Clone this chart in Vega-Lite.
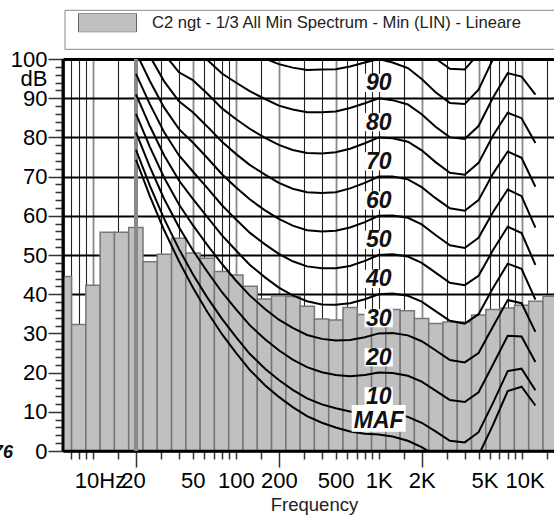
{
  "$schema": "https://vega.github.io/schema/vega-lite/v6.json",
  "width": 491,
  "height": 392,
  "autosize": {"type": "none"},
  "padding": {"left": 63, "top": 59, "right": 0, "bottom": 66},
  "background": "white",
  "config": {"view": {"stroke": null}, "font": "Liberation Sans"},
  "datasets": {
    "bars": [
      {"band": 6.3, "lo": 5.623, "hi": 7.079, "db": 44.5},
      {"band": 8, "lo": 7.079, "hi": 8.913, "db": 32.3},
      {"band": 10, "lo": 8.913, "hi": 11.22, "db": 42.3},
      {"band": 12.5, "lo": 11.22, "hi": 14.13, "db": 55.8},
      {"band": 16, "lo": 14.13, "hi": 17.78, "db": 55.8},
      {"band": 20, "lo": 17.78, "hi": 22.39, "db": 57.0},
      {"band": 25, "lo": 22.39, "hi": 28.18, "db": 48.3},
      {"band": 31.5, "lo": 28.18, "hi": 35.48, "db": 50.2},
      {"band": 40, "lo": 35.48, "hi": 44.67, "db": 54.3},
      {"band": 50, "lo": 44.67, "hi": 56.23, "db": 50.5},
      {"band": 63, "lo": 56.23, "hi": 70.79, "db": 49.2},
      {"band": 80, "lo": 70.79, "hi": 89.13, "db": 45.8},
      {"band": 100, "lo": 89.13, "hi": 112.2, "db": 44.9},
      {"band": 125, "lo": 112.2, "hi": 141.3, "db": 42.0},
      {"band": 160, "lo": 141.3, "hi": 177.8, "db": 38.8},
      {"band": 200, "lo": 177.8, "hi": 223.9, "db": 39.6},
      {"band": 250, "lo": 223.9, "hi": 281.8, "db": 39.4},
      {"band": 315, "lo": 281.8, "hi": 354.8, "db": 36.9},
      {"band": 400, "lo": 354.8, "hi": 446.7, "db": 33.7},
      {"band": 500, "lo": 446.7, "hi": 562.3, "db": 33.4},
      {"band": 630, "lo": 562.3, "hi": 707.9, "db": 36.6},
      {"band": 800, "lo": 707.9, "hi": 891.3, "db": 34.8},
      {"band": 1000, "lo": 891.3, "hi": 1122, "db": 36.0},
      {"band": 1250, "lo": 1122, "hi": 1413, "db": 36.1},
      {"band": 1600, "lo": 1413, "hi": 1778, "db": 35.8},
      {"band": 2000, "lo": 1778, "hi": 2239, "db": 33.8},
      {"band": 2500, "lo": 2239, "hi": 2818, "db": 32.5},
      {"band": 3150, "lo": 2818, "hi": 3548, "db": 32.9},
      {"band": 4000, "lo": 3548, "hi": 4467, "db": 32.9},
      {"band": 5000, "lo": 4467, "hi": 5623, "db": 34.7},
      {"band": 6300, "lo": 5623, "hi": 7079, "db": 36.1},
      {"band": 8000, "lo": 7079, "hi": 8913, "db": 36.5},
      {"band": 10000, "lo": 8913, "hi": 11220, "db": 37.2},
      {"band": 12500, "lo": 11220, "hi": 14130, "db": 38.2},
      {"band": 16000, "lo": 14130, "hi": 17780, "db": 39.5}
    ],
    "contours": [
      {"c":"MAF","f":20,"db":74.3},{"c":"MAF","f":25,"db":65.0},{"c":"MAF","f":31.5,"db":56.3},{"c":"MAF","f":40,"db":48.4},{"c":"MAF","f":50,"db":41.7},{"c":"MAF","f":63,"db":35.5},{"c":"MAF","f":80,"db":29.8},{"c":"MAF","f":100,"db":25.1},{"c":"MAF","f":125,"db":20.7},{"c":"MAF","f":160,"db":16.8},{"c":"MAF","f":200,"db":13.8},{"c":"MAF","f":250,"db":11.2},{"c":"MAF","f":315,"db":8.9},{"c":"MAF","f":400,"db":7.2},{"c":"MAF","f":500,"db":6.0},{"c":"MAF","f":630,"db":5.0},{"c":"MAF","f":800,"db":4.4},{"c":"MAF","f":1000,"db":4.2},{"c":"MAF","f":1250,"db":3.7},{"c":"MAF","f":1600,"db":2.6},{"c":"MAF","f":2000,"db":1.0},{"c":"MAF","f":2500,"db":-1.2},{"c":"MAF","f":3150,"db":-3.6},{"c":"MAF","f":4000,"db":-3.9},{"c":"MAF","f":5000,"db":-1.1},{"c":"MAF","f":6300,"db":6.6},{"c":"MAF","f":8000,"db":15.3},{"c":"MAF","f":10000,"db":16.4},{"c":"MAF","f":12500,"db":11.6},
      {"c":"10","f":20,"db":76.8},{"c":"10","f":25,"db":67.7},{"c":"10","f":31.5,"db":59.2},{"c":"10","f":40,"db":51.5},{"c":"10","f":50,"db":45.1},{"c":"10","f":63,"db":39.2},{"c":"10","f":80,"db":33.7},{"c":"10","f":100,"db":29.1},{"c":"10","f":125,"db":24.8},{"c":"10","f":160,"db":21.0},{"c":"10","f":200,"db":18.1},{"c":"10","f":250,"db":15.6},{"c":"10","f":315,"db":13.4},{"c":"10","f":400,"db":11.9},{"c":"10","f":500,"db":10.9},{"c":"10","f":630,"db":10.1},{"c":"10","f":800,"db":9.9},{"c":"10","f":1000,"db":10},{"c":"10","f":1250,"db":9.7},{"c":"10","f":1600,"db":8.7},{"c":"10","f":2000,"db":7.2},{"c":"10","f":2500,"db":5.0},{"c":"10","f":3150,"db":2.6},{"c":"10","f":4000,"db":2.2},{"c":"10","f":5000,"db":4.8},{"c":"10","f":6300,"db":12.2},{"c":"10","f":8000,"db":20.4},{"c":"10","f":10000,"db":21.0},{"c":"10","f":12500,"db":15.5},
      {"c":"20","f":20,"db":81.3},{"c":"20","f":25,"db":72.5},{"c":"20","f":31.5,"db":64.3},{"c":"20","f":40,"db":57.1},{"c":"20","f":50,"db":51.2},{"c":"20","f":63,"db":45.8},{"c":"20","f":80,"db":40.5},{"c":"20","f":100,"db":36.2},{"c":"20","f":125,"db":32.1},{"c":"20","f":160,"db":28.5},{"c":"20","f":200,"db":25.7},{"c":"20","f":250,"db":23.3},{"c":"20","f":315,"db":21.4},{"c":"20","f":400,"db":20.1},{"c":"20","f":500,"db":19.4},{"c":"20","f":630,"db":19.1},{"c":"20","f":800,"db":19.4},{"c":"20","f":1000,"db":20},{"c":"20","f":1250,"db":19.9},{"c":"20","f":1600,"db":19.2},{"c":"20","f":2000,"db":17.7},{"c":"20","f":2500,"db":15.4},{"c":"20","f":3150,"db":13.0},{"c":"20","f":4000,"db":12.5},{"c":"20","f":5000,"db":15.0},{"c":"20","f":6300,"db":22.0},{"c":"20","f":8000,"db":29.4},{"c":"20","f":10000,"db":29.2},{"c":"20","f":12500,"db":22.7},
      {"c":"30","f":20,"db":86.0},{"c":"30","f":25,"db":77.6},{"c":"30","f":31.5,"db":69.7},{"c":"30","f":40,"db":62.9},{"c":"30","f":50,"db":57.6},{"c":"30","f":63,"db":52.6},{"c":"30","f":80,"db":47.7},{"c":"30","f":100,"db":43.5},{"c":"30","f":125,"db":39.7},{"c":"30","f":160,"db":36.2},{"c":"30","f":200,"db":33.5},{"c":"30","f":250,"db":31.4},{"c":"30","f":315,"db":29.6},{"c":"30","f":400,"db":28.6},{"c":"30","f":500,"db":28.2},{"c":"30","f":630,"db":28.3},{"c":"30","f":800,"db":29.0},{"c":"30","f":1000,"db":30},{"c":"30","f":1250,"db":30.1},{"c":"30","f":1600,"db":29.5},{"c":"30","f":2000,"db":28.0},{"c":"30","f":2500,"db":25.7},{"c":"30","f":3150,"db":23.2},{"c":"30","f":4000,"db":22.6},{"c":"30","f":5000,"db":25.0},{"c":"30","f":6300,"db":31.7},{"c":"30","f":8000,"db":38.5},{"c":"30","f":10000,"db":37.7},{"c":"30","f":12500,"db":30.4},
      {"c":"40","f":20,"db":91.0},{"c":"40","f":25,"db":82.9},{"c":"40","f":31.5,"db":75.4},{"c":"40","f":40,"db":69.0},{"c":"40","f":50,"db":64.3},{"c":"40","f":63,"db":59.7},{"c":"40","f":80,"db":55.0},{"c":"40","f":100,"db":51.2},{"c":"40","f":125,"db":47.5},{"c":"40","f":160,"db":44.3},{"c":"40","f":200,"db":41.7},{"c":"40","f":250,"db":39.7},{"c":"40","f":315,"db":38.2},{"c":"40","f":400,"db":37.4},{"c":"40","f":500,"db":37.3},{"c":"40","f":630,"db":37.7},{"c":"40","f":800,"db":38.7},{"c":"40","f":1000,"db":40},{"c":"40","f":1250,"db":40.2},{"c":"40","f":1600,"db":39.6},{"c":"40","f":2000,"db":38.1},{"c":"40","f":2500,"db":35.7},{"c":"40","f":3150,"db":33.2},{"c":"40","f":4000,"db":32.5},{"c":"40","f":5000,"db":34.9},{"c":"40","f":6300,"db":41.5},{"c":"40","f":8000,"db":47.8},{"c":"40","f":10000,"db":46.5},{"c":"40","f":12500,"db":38.6},
      {"c":"50","f":20,"db":96.2},{"c":"50","f":25,"db":88.5},{"c":"50","f":31.5,"db":81.3},{"c":"50","f":40,"db":75.4},{"c":"50","f":50,"db":71.3},{"c":"50","f":63,"db":67.1},{"c":"50","f":80,"db":62.7},{"c":"50","f":100,"db":59.1},{"c":"50","f":125,"db":55.7},{"c":"50","f":160,"db":52.7},{"c":"50","f":200,"db":50.3},{"c":"50","f":250,"db":48.4},{"c":"50","f":315,"db":47.1},{"c":"50","f":400,"db":46.6},{"c":"50","f":500,"db":46.6},{"c":"50","f":630,"db":47.2},{"c":"50","f":800,"db":48.5},{"c":"50","f":1000,"db":50},{"c":"50","f":1250,"db":50.2},{"c":"50","f":1600,"db":49.6},{"c":"50","f":2000,"db":48.0},{"c":"50","f":2500,"db":45.5},{"c":"50","f":3150,"db":42.9},{"c":"50","f":4000,"db":42.3},{"c":"50","f":5000,"db":44.7},{"c":"50","f":6300,"db":51.2},{"c":"50","f":8000,"db":57.2},{"c":"50","f":10000,"db":55.6},{"c":"50","f":12500,"db":47.5},
      {"c":"60","f":20,"db":101.7},{"c":"60","f":25,"db":94.4},{"c":"60","f":31.5,"db":87.6},{"c":"60","f":40,"db":82.1},{"c":"60","f":50,"db":78.7},{"c":"60","f":63,"db":74.8},{"c":"60","f":80,"db":70.6},{"c":"60","f":100,"db":67.3},{"c":"60","f":125,"db":64.2},{"c":"60","f":160,"db":61.4},{"c":"60","f":200,"db":59.2},{"c":"60","f":250,"db":57.5},{"c":"60","f":315,"db":56.3},{"c":"60","f":400,"db":56.0},{"c":"60","f":500,"db":56.2},{"c":"60","f":630,"db":57.0},{"c":"60","f":800,"db":58.4},{"c":"60","f":1000,"db":60},{"c":"60","f":1250,"db":60.1},{"c":"60","f":1600,"db":59.5},{"c":"60","f":2000,"db":57.8},{"c":"60","f":2500,"db":55.1},{"c":"60","f":3150,"db":52.5},{"c":"60","f":4000,"db":51.8},{"c":"60","f":5000,"db":54.4},{"c":"60","f":6300,"db":60.9},{"c":"60","f":8000,"db":66.7},{"c":"60","f":10000,"db":65.0},{"c":"60","f":12500,"db":57.0},
      {"c":"70","f":20,"db":107.6},{"c":"70","f":25,"db":100.7},{"c":"70","f":31.5,"db":94.3},{"c":"70","f":40,"db":89.2},{"c":"70","f":50,"db":86.4},{"c":"70","f":63,"db":82.8},{"c":"70","f":80,"db":78.9},{"c":"70","f":100,"db":75.8},{"c":"70","f":125,"db":73.0},{"c":"70","f":160,"db":70.5},{"c":"70","f":200,"db":68.4},{"c":"70","f":250,"db":66.9},{"c":"70","f":315,"db":66.0},{"c":"70","f":400,"db":65.8},{"c":"70","f":500,"db":66.0},{"c":"70","f":630,"db":67.0},{"c":"70","f":800,"db":68.4},{"c":"70","f":1000,"db":70},{"c":"70","f":1250,"db":70.0},{"c":"70","f":1600,"db":69.3},{"c":"70","f":2000,"db":67.3},{"c":"70","f":2500,"db":64.5},{"c":"70","f":3150,"db":61.9},{"c":"70","f":4000,"db":61.3},{"c":"70","f":5000,"db":64.0},{"c":"70","f":6300,"db":70.7},{"c":"70","f":8000,"db":76.4},{"c":"70","f":10000,"db":74.8},{"c":"70","f":12500,"db":67.4},
      {"c":"80","f":20,"db":113.7},{"c":"80","f":25,"db":107.3},{"c":"80","f":31.5,"db":101.3},{"c":"80","f":40,"db":96.6},{"c":"80","f":50,"db":94.6},{"c":"80","f":63,"db":91.2},{"c":"80","f":80,"db":87.4},{"c":"80","f":100,"db":84.7},{"c":"80","f":125,"db":82.2},{"c":"80","f":160,"db":79.9},{"c":"80","f":200,"db":78.1},{"c":"80","f":250,"db":76.8},{"c":"80","f":315,"db":76.0},{"c":"80","f":400,"db":75.9},{"c":"80","f":500,"db":76.2},{"c":"80","f":630,"db":77.1},{"c":"80","f":800,"db":78.5},{"c":"80","f":1000,"db":80},{"c":"80","f":1250,"db":79.8},{"c":"80","f":1600,"db":78.9},{"c":"80","f":2000,"db":76.7},{"c":"80","f":2500,"db":73.7},{"c":"80","f":3150,"db":71.0},{"c":"80","f":4000,"db":70.5},{"c":"80","f":5000,"db":73.5},{"c":"80","f":6300,"db":80.4},{"c":"80","f":8000,"db":86.3},{"c":"80","f":10000,"db":84.9},{"c":"80","f":12500,"db":78.6},
      {"c":"90","f":20,"db":120.3},{"c":"90","f":25,"db":114.4},{"c":"90","f":31.5,"db":108.7},{"c":"90","f":40,"db":104.4},{"c":"90","f":50,"db":103.2},{"c":"90","f":63,"db":99.8},{"c":"90","f":80,"db":96.3},{"c":"90","f":100,"db":94.0},{"c":"90","f":125,"db":91.8},{"c":"90","f":160,"db":89.8},{"c":"90","f":200,"db":88.1},{"c":"90","f":250,"db":87.1},{"c":"90","f":315,"db":86.4},{"c":"90","f":400,"db":86.4},{"c":"90","f":500,"db":86.6},{"c":"90","f":630,"db":87.5},{"c":"90","f":800,"db":88.7},{"c":"90","f":1000,"db":90},{"c":"90","f":1250,"db":89.5},{"c":"90","f":1600,"db":88.4},{"c":"90","f":2000,"db":85.9},{"c":"90","f":2500,"db":82.7},{"c":"90","f":3150,"db":80.0},{"c":"90","f":4000,"db":79.6},{"c":"90","f":5000,"db":82.9},{"c":"90","f":6300,"db":90.1},{"c":"90","f":8000,"db":96.4},{"c":"90","f":10000,"db":95.5},{"c":"90","f":12500,"db":90.9},
      {"c":"100","f":20,"db":127.2},{"c":"100","f":25,"db":121.9},{"c":"100","f":31.5,"db":116.6},{"c":"100","f":40,"db":112.6},{"c":"100","f":50,"db":112.3},{"c":"100","f":63,"db":108.9},{"c":"100","f":80,"db":105.6},{"c":"100","f":100,"db":103.6},{"c":"100","f":125,"db":101.8},{"c":"100","f":160,"db":100.1},{"c":"100","f":200,"db":98.7},{"c":"100","f":250,"db":97.8},{"c":"100","f":315,"db":97.2},{"c":"100","f":400,"db":97.3},{"c":"100","f":500,"db":97.4},{"c":"100","f":630,"db":98.1},{"c":"100","f":800,"db":99.1},{"c":"100","f":1000,"db":100},{"c":"100","f":1250,"db":99.1},{"c":"100","f":1600,"db":97.7},{"c":"100","f":2000,"db":94.9},{"c":"100","f":2500,"db":91.5},{"c":"100","f":3150,"db":88.8},{"c":"100","f":4000,"db":88.5},{"c":"100","f":5000,"db":92.2},{"c":"100","f":6300,"db":99.9},{"c":"100","f":8000,"db":106.6},{"c":"100","f":10000,"db":106.5},{"c":"100","f":12500,"db":104.3},
      {"c":"110","f":1250,"db":108.6},{"c":"110","f":1600,"db":107.0},{"c":"110","f":2000,"db":103.8},{"c":"110","f":2500,"db":100.1},{"c":"110","f":3150,"db":97.5},{"c":"110","f":4000,"db":97.3},{"c":"110","f":5000,"db":101.4},{"c":"110","f":6300,"db":109.6}
    ],
    "labels": [
      {"c": "MAF", "f": 1000, "db": 4.2},
      {"c": "10", "f": 1000, "db": 10},
      {"c": "20", "f": 1000, "db": 20},
      {"c": "30", "f": 1000, "db": 30},
      {"c": "40", "f": 1000, "db": 40},
      {"c": "50", "f": 1000, "db": 50},
      {"c": "60", "f": 1000, "db": 60},
      {"c": "70", "f": 1000, "db": 70},
      {"c": "80", "f": 1000, "db": 80},
      {"c": "90", "f": 1000, "db": 90}
    ]
  },
  "layer": [
    {
      "data": {"name": "bars"},
      "mark": {"type": "rect", "stroke": "#777777", "strokeWidth": 1.5, "clip": true},
      "encoding": {
        "x": {
          "field": "lo", "type": "quantitative", "title": "Frequency",
          "scale": {"type": "log", "domain": [6.166, 16870], "nice": false},
          "axis": {
            "values": [7,8,9,10,15,20,30,40,50,60,70,80,90,100,150,200,300,400,500,600,700,800,900,1000,1500,2000,3000,4000,5000,6000,7000,8000,9000,10000,15000],
            "tickCount": 500,
            "labelExpr": "datum.value == 10 ? '10Hz' : (indexof([20,50,100,200,500], datum.value) >= 0 ? '' + datum.value : (indexof([1000,2000,5000,10000], datum.value) >= 0 ? (datum.value / 1000) + 'K' : ''))",
            "labelFont": "Liberation Sans", "labelFontSize": 22, "labelColor": "black",
            "labelOverlap": false, "labelFlush": false,
            "labelPadding": {"condition": {"test": "datum.value == 20 || datum.value == 200 || datum.value == 2000", "value": 3}, "value": 11},
            "labelOffset": {"condition": [{"test": "datum.value == 10", "value": 7}, {"test": "datum.value == 20", "value": -3}, {"test": "datum.value == 5000", "value": 6}, {"test": "datum.value == 10000", "value": 3}], "value": 0},
            "tickSize": {"condition": {"test": "datum.value == 20 || datum.value == 200 || datum.value == 2000", "value": 16}, "value": 8},
            "tickColor": "#333333", "tickWidth": 1.5,
            "domainColor": "black", "domainWidth": 2.5,
            "grid": true,
            "gridColor": {"condition": {"test": "indexof([10,20,50,100,200,500,2000,5000,10000], datum.value) >= 0", "value": "#8a8a8a"}, "value": "#222222"},
            "gridWidth": {"condition": {"test": "indexof([10,20,50,100,200,500,2000,5000,10000], datum.value) >= 0", "value": 1.8}, "value": 1.1},
            "titleFont": "Liberation Sans", "titleFontSize": 18.5, "titleFontWeight": "normal", "titleColor": "#222222",
            "titleX": 251, "titleY": 59, "titleBaseline": "alphabetic"
          }
        },
        "x2": {"field": "hi"},
        "y": {
          "field": "db", "type": "quantitative", "title": null,
          "scale": {"domain": [0, 100], "nice": false, "zero": false},
          "axis": {
            "values": [0,2,4,6,8,10,12,14,16,18,20,22,24,26,28,30,32,34,36,38,40,42,44,46,48,50,52,54,56,58,60,62,64,66,68,70,72,74,76,78,80,82,84,86,88,90,92,94,95,96,98,100],
            "tickCount": 500,
            "labelExpr": "datum.value == 95 ? 'dB' : (datum.value % 10 == 0 ? '' + datum.value : '')",
            "labelFont": "Liberation Sans", "labelFontSize": 22, "labelColor": "black",
            "labelOverlap": false, "labelFlush": false, "labelBaseline": "middle",
            "labelPadding": {"condition": {"test": "datum.value == 95", "value": 8}, "value": 1},
            "tickSize": {"condition": {"test": "datum.value % 10 == 0", "value": 15}, "value": 8},
            "tickOpacity": {"condition": {"test": "datum.value == 95", "value": 0}, "value": 1},
            "tickColor": "#333333", "tickWidth": 1.5,
            "domainColor": "black", "domainWidth": 2.5,
            "grid": true, "gridColor": "black",
            "gridWidth": {"condition": {"test": "datum.value == 100", "value": 3}, "value": 2},
            "gridOpacity": {"condition": {"test": "datum.value % 10 == 0 && datum.value > 0", "value": 1}, "value": 0}
          }
        },
        "y2": {"datum": 0},
        "fill": {
          "datum": "C2 ngt - 1/3 All Min Spectrum - Min (LIN) - Lineare", "type": "nominal",
          "scale": {"range": ["#c0c0c0"]},
          "legend": {
            "orient": "none", "legendX": 1.5, "legendY": -49.2,
            "title": "\u00a0", "titleOrient": "bottom", "titleFontSize": 11, "titlePadding": 1.5,
            "labelFont": "Liberation Sans", "labelFontSize": 16.6, "labelColor": "#222222", "labelLimit": 2000,
            "labelExpr": "datum.label + '\u00a0\u00a0\u00a0\u00a0\u00a0\u00a0\u00a0\u00a0\u00a0\u00a0\u00a0\u00a0\u00a0\u00a0\u00a0\u00a0\u00a0\u00a0\u00a0\u00a0\u00a0\u00a0\u00a0\u00a0\u00a0\u00a0\u00a0\u00a0\u00a0\u00a0\u200b'",
            "symbolType": "M-1,-0.3276H1V0.3276H-1Z", "symbolSize": 3364,
            "symbolStrokeColor": "#666666", "symbolStrokeWidth": 1,
            "clipHeight": 19, "symbolOffset": 10, "labelOffset": 15,
            "padding": 3.5, "strokeColor": "#888888", "fillColor": "white"
          }
        }
      }
    },
    {
      "data": {"values": [{"f": 6.166}]},
      "mark": {"type": "rule", "color": "black", "strokeWidth": 3},
      "encoding": {
        "x": {"field": "f", "type": "quantitative", "title": "Frequency", "scale": {"type": "log", "domain": [6.166, 16870], "nice": false}}
      }
    },
    {
      "data": {"values": [{"db": 0}]},
      "mark": {"type": "rule", "color": "black", "strokeWidth": 2.5},
      "encoding": {
        "y": {"field": "db", "type": "quantitative", "title": null, "scale": {"domain": [0, 100], "nice": false, "zero": false}}
      }
    },
    {
      "data": {"values": [{"f": 20}]},
      "mark": {"type": "rule", "color": "#8a8a8a", "strokeWidth": 4},
      "encoding": {
        "x": {"field": "f", "type": "quantitative", "title": "Frequency", "scale": {"type": "log", "domain": [6.166, 16870], "nice": false}}
      }
    },
    {
      "data": {"name": "contours"},
      "mark": {"type": "line", "color": "black", "strokeWidth": 2, "clip": true},
      "encoding": {
        "x": {"field": "f", "type": "quantitative", "title": "Frequency", "scale": {"type": "log", "domain": [6.166, 16870], "nice": false}},
        "y": {"field": "db", "type": "quantitative", "title": null, "scale": {"domain": [0, 100], "nice": false, "zero": false}},
        "detail": {"field": "c", "type": "nominal"}
      }
    },
    {
      "data": {"name": "labels"},
      "transform": [{"filter": "datum.c != 'MAF'"}],
      "mark": {"type": "point", "shape": "M-1,-0.647H1V0.647H-1Z", "size": 801, "filled": true, "fill": "white", "strokeWidth": 0, "opacity": 1, "yOffset": -15.3},
      "encoding": {
        "x": {"field": "f", "type": "quantitative", "title": "Frequency", "scale": {"type": "log", "domain": [6.166, 16870], "nice": false}},
        "y": {"field": "db", "type": "quantitative", "title": null, "scale": {"domain": [0, 100], "nice": false, "zero": false}}
      }
    },
    {
      "data": {"name": "labels"},
      "transform": [{"filter": "datum.c == 'MAF'"}],
      "mark": {"type": "point", "shape": "M-1,-0.494H1V0.494H-1Z", "size": 2916, "filled": true, "fill": "white", "strokeWidth": 0, "opacity": 1, "yOffset": -16.1},
      "encoding": {
        "x": {"field": "f", "type": "quantitative", "title": "Frequency", "scale": {"type": "log", "domain": [6.166, 16870], "nice": false}},
        "y": {"field": "db", "type": "quantitative", "title": null, "scale": {"domain": [0, 100], "nice": false, "zero": false}}
      }
    },
    {
      "data": {"name": "labels"},
      "transform": [{"filter": "datum.c != 'MAF'"}],
      "mark": {"type": "text", "font": "Liberation Sans", "fontSize": 23, "fontStyle": "italic", "fontWeight": "bold", "color": "#111111", "align": "center", "baseline": "alphabetic", "yOffset": -7.8},
      "encoding": {
        "x": {"field": "f", "type": "quantitative", "title": "Frequency", "scale": {"type": "log", "domain": [6.166, 16870], "nice": false}},
        "y": {"field": "db", "type": "quantitative", "title": null, "scale": {"domain": [0, 100], "nice": false, "zero": false}},
        "text": {"field": "c"}
      }
    },
    {
      "data": {"name": "labels"},
      "transform": [{"filter": "datum.c == 'MAF'"}],
      "mark": {"type": "text", "font": "Liberation Sans", "fontSize": 23, "fontStyle": "italic", "fontWeight": "bold", "color": "#111111", "align": "center", "baseline": "alphabetic", "yOffset": -6.3},
      "encoding": {
        "x": {"field": "f", "type": "quantitative", "title": "Frequency", "scale": {"type": "log", "domain": [6.166, 16870], "nice": false}},
        "y": {"field": "db", "type": "quantitative", "title": null, "scale": {"domain": [0, 100], "nice": false, "zero": false}},
        "text": {"field": "c"}
      }
    },
    {
      "data": {"values": [{"t": "76", "f": 2.75, "db": -1.8}]},
      "mark": {"type": "text", "font": "Liberation Sans", "fontSize": 18, "fontStyle": "italic", "fontWeight": "bold", "color": "#111111", "align": "right", "baseline": "alphabetic"},
      "encoding": {
        "x": {"field": "f", "type": "quantitative", "title": "Frequency", "scale": {"type": "log", "domain": [6.166, 16870], "nice": false}},
        "y": {"field": "db", "type": "quantitative", "title": null, "scale": {"domain": [0, 100], "nice": false, "zero": false}},
        "text": {"field": "t"}
      }
    }
  ]
}
